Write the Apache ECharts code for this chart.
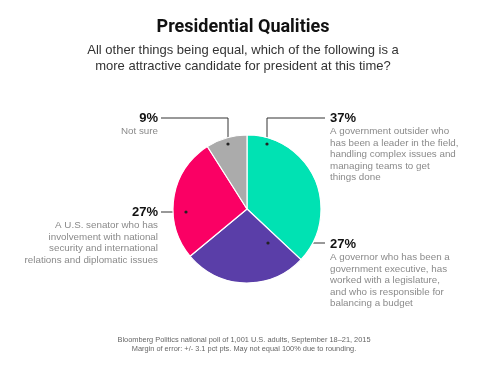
<!DOCTYPE html>
<html><head><meta charset="utf-8">
<script src="https://cdn.jsdelivr.net/npm/echarts@6/dist/echarts.min.js"></script>
<style>html,body{margin:0;padding:0;background:#fff}#c{width:488px;height:371px}</style>
</head><body><div id="c"></div>
<script>
const categories = ['Government outsider', 'Governor', 'U.S. senator', 'Not sure'];
const values = [37, 27, 27, 9];
const pctLabels = ['37%', '27%', '27%', '9%'];
const descriptions = [
  ['A government outsider who', 'has been a leader in the field,', 'handling complex issues and', 'managing teams to get', 'things done'],
  ['A governor who has been a', 'government executive, has', 'worked with a legislature,', 'and who is responsible for', 'balancing a budget'],
  ['A U.S. senator who has', 'involvement with national', 'security and international', 'relations and diplomatic issues'],
  ['Not sure']
];
const colors = ['#00e2b3', '#5a3ea8', '#fa0064', '#ababab'];
const titleText = 'Presidential Qualities';
const subtitleLines = ['All other things being equal, which of the following is a', 'more attractive candidate for president at this time?'];
const footerLines = ['Bloomberg Politics national poll of 1,001 U.S. adults, September 18–21, 2015', 'Margin of error: +/- 3.1 pct pts. May not equal 100% due to rounding.'];

// layout (annotation placement)
const CX = 247, CY = 209, R = 74;
const anchors = [
  {dot:[20,-65], elbowY:118, endX:325, lx:330, ly:110.5, align:'left'},
  {dot:[21,34], elbowY:null, endX:325, lx:330, ly:236.5, align:'left'},
  {dot:[-61,3], elbowY:null, endX:161, lx:158, ly:204.5, align:'right'},
  {dot:[-19,-65], elbowY:118, endX:161, lx:158, ly:110.5, align:'right'}
];

function linePts(i){
  const a = anchors[i];
  const d = [CX + a.dot[0], CY + a.dot[1]];
  if (a.elbowY == null) return [d, [(d[0]+a.endX)/2, d[1]], [a.endX, d[1]]];
  return [d, [d[0], a.elbowY], [a.endX, a.elbowY]];
}

const chart = echarts.init(document.getElementById('c'), null, {renderer:'canvas'});
const FONT = '"Liberation Sans", Arial, sans-serif';
chart.setOption({
  animation: false,
  series: [{
    type: 'pie',
    center: [CX, CY],
    radius: [0, R],
    startAngle: 90,
    clockwise: true,
    data: categories.map((c, i) => ({name: c, value: values[i], itemStyle: {color: colors[i]}})),
    itemStyle: {borderColor: '#fff', borderWidth: 1.2},
    label: {
      show: true,
      position: 'outside',
      overflow: 'none',
      formatter: p => '{p|' + pctLabels[p.dataIndex] + '}\n' + descriptions[p.dataIndex].map(s => '{d|' + s + '}').join('\n'),
      rich: {
        p: {fontFamily: FONT, fontWeight: 'bold', fontSize: 13, lineHeight: 15, color: '#111'},
        d: {fontFamily: FONT, fontSize: 9.8, lineHeight: 11.6, color: '#8a8a8a'}
      }
    },
    labelLine: {show: true, lineStyle: {color: '#333', width: 1}},
    labelLayout: p => {
      const a = anchors[p.dataIndex];
      return {x: a.lx, y: a.ly, align: a.align, verticalAlign: 'top', labelLinePoints: linePts(p.dataIndex)};
    },
    emphasis: {disabled: true}
  }],
  graphic: [
    {type: 'text', x: 243, y: 18, style: {text: titleText, textAlign: 'center', textVerticalAlign: 'top',
      font: 'bold 18px Roboto, "Liberation Sans", sans-serif', fill: '#111'}},
    {type: 'text', x: 243, y: 43, style: {text: subtitleLines.join('\n'), textAlign: 'center', textVerticalAlign: 'top',
      font: '13px ' + FONT, lineHeight: 15.5, fill: '#333'}},
    {type: 'text', x: 244, y: 335, style: {text: footerLines.join('\n'), textAlign: 'center', textVerticalAlign: 'top',
      font: '7.4px ' + FONT, lineHeight: 9.5, fill: '#666'}}
  ].concat(anchors.map(a => ({
    type: 'circle', shape: {cx: CX + a.dot[0], cy: CY + a.dot[1], r: 1.6},
    style: {fill: '#222'}, z: 100, silent: true
  })))
});
</script></body></html>
